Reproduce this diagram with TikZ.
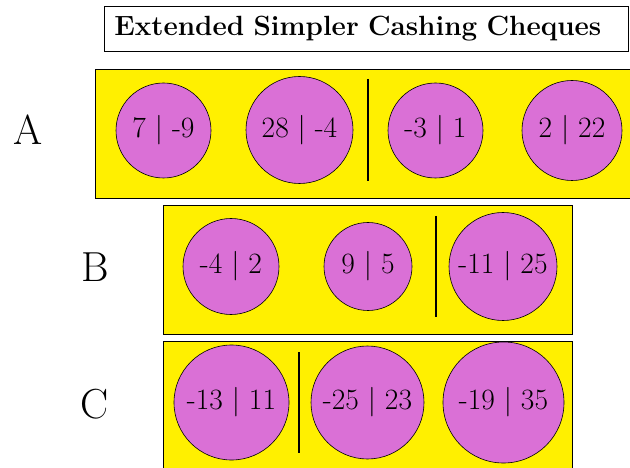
\documentclass[tikz,border=0pt]{standalone}
\usepackage{xcolor}
\usepackage{tikz}
\usetikzlibrary{positioning}
\definecolor{rowyellow}{RGB}{255,240,0}
\definecolor{chequepink}{RGB}{218,112,214}

\begin{document}
\begin{tikzpicture}[x=1pt,y=-1pt,
    row/.style={draw,fill=rowyellow,anchor=north west,inner sep=0pt,line width=0.8pt},
    cheque/.style={draw,circle,fill=chequepink,inner sep=0pt,line width=0.6pt,font=\fontsize{29.5}{35}\selectfont},
    lbl/.style={font=\fontsize{42}{50}\selectfont},
    bar/.style={line width=2pt}
  ]
    \useasboundingbox (0,0) rectangle (630,468);
    \clip (0,0) rectangle (630,468);
    \node[draw,anchor=north west,line width=0.8pt,minimum width=524pt,minimum height=44pt,
      text width=504pt,align=left,inner sep=10pt,font=\fontsize{27.8}{33}\selectfont\bfseries] (title) at (104,6) {Extended Simpler Cashing Cheques};
    \node[row,minimum width=545pt,minimum height=129pt] (rowA) at (95,69) {};
    \node[row,minimum width=409pt,minimum height=129pt] (rowB) at (163,205) {};
    \node[row,minimum width=409pt,minimum height=140pt] (rowC) at (163,341) {};
    \node[lbl] (labA) at (28,130) {A};
    \node[lbl] (labB) at (95,267) {B};
    \node[lbl] (labC) at (95,404) {C};
    \foreach \n/\x/\y/\r/\t in {a1/163.5/130.5/47.5/{7 | -9},a2/299.5/130/53.5/{28 | -4},
        a3/435.5/130.5/47.5/{-3 | 1},a4/572/130.5/50/{2 | 22},
        b1/231/266.5/48/{-4 | 2},b2/368/266.5/44/{9 | 5},b3/503/266.5/54/{-11 | 25},
        c1/231.5/402.5/57.5/{-13 | 11},c2/367.5/402.5/56.5/{-25 | 23},c3/503.5/402.5/60.5/{-19 | 35}}{
      \node[cheque,minimum size={2*\r}] (\n) at (\x,\y) {\t};
    }
    \draw[bar] (368,79) -- (368,181);
    \draw[bar] (436,216) -- (436,317);
    \draw[bar] (299,352) -- (299,453);
  \end{tikzpicture}
\end{document}
